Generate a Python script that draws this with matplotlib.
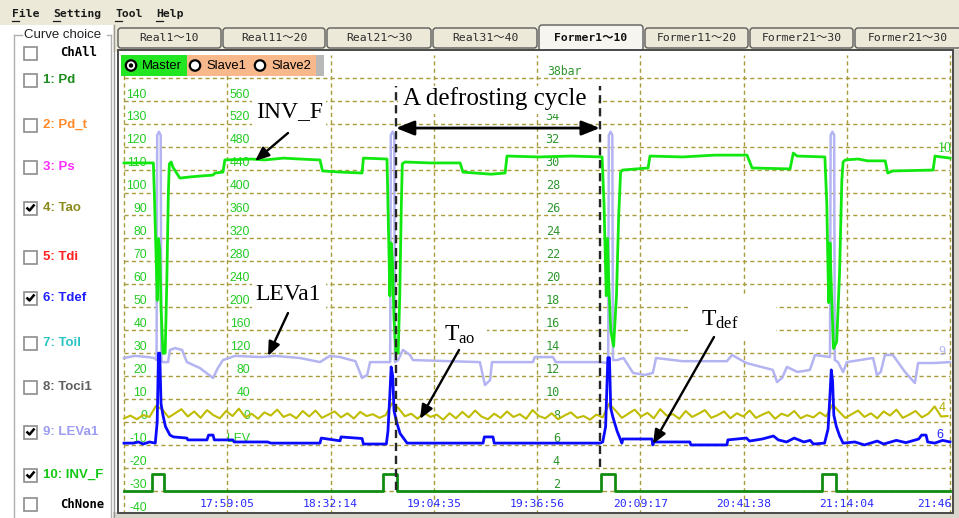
import numpy as np
import matplotlib
matplotlib.use('Agg')
import matplotlib.pyplot as plt
from matplotlib.patches import Rectangle, Circle, FancyBboxPatch

plt.rcParams['mathtext.fontset'] = 'custom'
plt.rcParams['mathtext.rm'] = 'Liberation Serif'
plt.rcParams['mathtext.it'] = 'Liberation Serif:italic'

# ------------------------------------------------------------------ data
grid_step_min = 32.35                      # minutes between vertical grid lines
time_labels = ['17:59:05', '18:32:14', '19:04:35', '19:36:56',
               '20:09:17', '20:41:38', '21:14:04', '21:46']

temp_levels = [140, 130, 120, 110, 100, 90, 80, 70, 60, 50, 40, 30, 20, 10, 0, -10, -20, -30, -40]
temp_labels = ['140', '130', '120', '110', '100', '90', '80', '70', '60', '50', '40', '30',
               '20', '10', '0', '-10', '-20', '-30', '-40']
lev_levels = [140, 130, 120, 110, 100, 90, 80, 70, 60, 50, 40, 30, 20, 10, 0, -10]
lev_labels = ['560', '520', '480', '440', '400', '360', '320', '280', '240', '200', '160',
              '120', '80', '40', '0', 'LEV']
bar_levels = [150, 130, 120, 110, 100, 90, 80, 70, 60, 50, 40, 30, 20, 10, 0, -10, -20, -30]
bar_labels = ['38bar', '34', '32', '30', '28', '26', '24', '22', '20', '18', '16',
              '14', '12', '10', '8', '6', '4', '2']

# INV_F (minutes, value on left scale)
inv_t = [0, 9.2, 9.5, 9.8, 10.1, 10.4, 10.8, 11.2, 11.6, 12.2,
         12.9, 13.4, 13.9, 14.2, 14.8, 15.3, 17.5, 20.7, 24.0, 27.9,
         28.5, 31.0, 31.6, 40.0, 44.0, 50.0, 55.0, 61.4, 62.2, 68.0,
         74.6, 75.0, 82.4, 82.7, 83.0, 83.3, 83.7, 84.1, 84.6, 85.2,
         85.9, 86.4, 86.9, 87.2, 88.0, 96.0, 105.3, 106.2, 110.0, 115.0,
         119.4, 120.0, 130.0, 140.0, 149.8, 150.4, 150.8, 151.1, 151.5, 151.9,
         152.5, 153.4, 154.3, 155.0, 155.6, 156.2, 164.2, 164.8, 175.0, 185.0,
         195.2, 196.8, 208.7, 209.7, 210.9, 219.6, 220.2, 220.5, 220.8, 221.2,
         221.7, 222.3, 223.3, 224.2, 224.9, 225.3, 226.0, 230.0, 233.0, 238.5,
         239.3, 240.9, 253.5, 254.1, 256.0, 258.8]
inv_v = [112.9, 112.9, 100, 85, 70, 53, 80, 75, 50, 30,
         30, 60, 100, 112.5, 113.3, 111.1, 106.3, 106.8, 107.2, 107.6,
         108.5, 108.9, 114.2, 114.6, 114.2, 115.0, 114.6, 114.2, 109.4, 108.9,
         108.5, 115.0, 114.6, 95, 75, 55, 78, 70, 45, 30,
         30, 55, 95, 112.5, 113.3, 112.9, 112.9, 108.9, 108.5, 108.0,
         108.5, 115.9, 115.5, 115.9, 115.5, 95, 72, 55, 80, 60,
         40, 33, 55, 90, 108.9, 109.8, 110.7, 115.9, 115.5, 116.3,
         116.3, 110.7, 110.3, 117.2, 115.9, 115.5, 95, 72, 52, 78,
         55, 32, 35, 65, 105, 113.3, 114.2, 114.6, 113.8, 113.8,
         108.5, 109.4, 109.8, 115.9, 115.5, 115.0]

# LEVa1
lev_t = [0, 3.4, 7.5, 9.4, 10.2, 10.4, 10.95, 11.5, 11.7, 12.0,
         13.8, 14.4, 16.0, 18.2, 19.7, 23.8, 27.9, 29.4, 31.0, 34.8,
         43.0, 47.3, 55.1, 61.4, 64.5, 67.7, 72.5, 74.6, 76.2, 77.1,
         83.4, 83.6, 84.15, 84.7, 84.9, 85.9, 87.4, 89.6, 90.5, 102.0,
         111.5, 113.1, 114.7, 115.3, 128.1, 128.7, 134.4, 135.3, 149.1, 151.7,
         151.9, 152.45, 153.0, 153.2, 154.5, 156.5, 159.5, 163.2, 165.7, 166.7,
         175.0, 188.9, 190.5, 195.0, 203.3, 204.6, 206.2, 207.7, 211.0, 214.9,
         216.5, 221.2, 221.4, 221.95, 222.5, 222.7, 223.7, 225.3, 226.5, 234.7,
         235.9, 237.1, 238.4, 240.9, 244.7, 247.8, 248.8, 253.5, 258.8]
lev_v = [27.9, 28.8, 28.3, 27.9, 27.0, 125.0, 126.5, 125.0, 27.0, 26.1,
         26.1, 31.4, 32.2, 31.4, 26.1, 23.5, 19.2, 23.5, 27.0, 28.8,
         28.3, 28.8, 27.9, 26.1, 28.8, 28.3, 26.5, 19.2, 20.5, 26.1,
         26.1, 125.0, 126.5, 125.0, 26.1, 27.0, 31.4, 29.2, 27.0, 26.5,
         26.1, 16.1, 18.3, 26.1, 26.1, 28.3, 28.3, 26.1, 26.1, 25.7,
         125.0, 126.5, 125.0, 27.0, 27.0, 27.9, 21.4, 20.5, 21.4, 27.9,
         26.5, 26.5, 29.2, 25.7, 22.7, 17.4, 19.2, 24.0, 21.8, 22.7,
         29.2, 28.3, 125.0, 126.5, 125.0, 27.0, 26.1, 21.8, 26.1, 27.9,
         20.5, 21.8, 29.2, 29.2, 21.8, 17.0, 25.7, 25.7, 26.1]

# Tao, one reading every 2 minutes
tao_v = [1.5, 2.8, 1.2, 3.0, 2.2, 7.0, 5.5, 2.0, 3.8, 5.6,
         2.4, 4.6, 1.8, 5.2, 3.0, 1.6, 4.8, 2.6, 5.8, 2.0,
         3.6, 1.4, 4.2, 2.8, 5.4, 2.2, 3.4, 1.6, 4.8, 2.4,
         5.0, 1.8, 3.2, 4.6, 2.0, 3.8, 1.5, 4.4, 2.6, 3.4,
         1.8, 3.0, 8.2, 6.0, 2.5, 3.6, 1.4, 4.0, 2.2, 3.2,
         1.0, 3.8, 1.6, 4.4, 2.0, 5.0, 2.4, 1.2, 3.6, 1.8,
         4.6, 2.2, 3.4, 1.4, 5.2, 2.6, 1.6, 3.8, 1.2, 2.8,
         4.2, 1.8, 2.6, 1.0, 3.2, 2.0, 8.0, 5.0, 1.8, 3.6,
         5.4, 2.4, 4.0, 1.6, 5.6, 2.8, 3.4, 1.4, 4.8, 2.2,
         3.6, 5.2, 1.8, 3.0, 4.6, 1.6, 3.8, 2.4, 5.0, 1.8,
         3.2, 4.4, 1.4, 3.6, 2.6, 4.8, 1.6, 3.0, 2.0, 4.2,
         2.4, 7.6, 4.6, 1.8, 3.4, 5.0, 2.2, 3.8, 1.6, 4.6,
         2.8, 5.4, 1.8, 3.2, 4.8, 2.0, 3.6, 6.8, 2.4, 2.6]
tao_step_min = 2.0

# Tdef
tdef_t = [0, 3.0, 4.5, 6.0, 8.0, 9.8, 10.4, 10.8, 11.2, 11.6,
          12.2, 13.0, 14.4, 15.5, 19.7, 20.0, 26.0, 26.5, 27.9, 28.3,
          34.1, 34.5, 45.0, 46.0, 61.4, 61.8, 67.7, 68.0, 74.6, 75.0,
          82.2, 82.7, 83.3, 83.7, 84.2, 84.6, 85.4, 86.5, 88.7, 112.5,
          112.9, 115.6, 116.0, 149.1, 150.0, 150.9, 151.6, 152.1, 152.5, 153.2,
          154.5, 156.0, 156.3, 165.4, 165.7, 166.0, 177.3, 177.6, 188.9, 189.2,
          195.0, 196.0, 200.0, 203.5, 205.0, 207.6, 210.0, 213.0, 215.0, 216.0,
          219.5, 220.6, 221.2, 221.6, 222.0, 222.4, 223.2, 224.2, 225.3, 229.0,
          232.0, 236.0, 238.0, 242.0, 245.0, 249.0, 249.9, 251.3, 251.8, 254.0,
          256.5, 258.8]
tdef_v = [-9.2, -9.2, -8.7, -9.6, -8.7, -9.2, 0, 30, 30, 8,
          3, -2, -5.7, -6.5, -7.0, -7.8, -7.8, -5.7, -5.7, -7.8,
          -7.8, -8.7, -8.7, -9.2, -9.2, -7.0, -8.2, -6.5, -7.2, -9.6,
          -9.6, -4, 12, 24, 20, 5, 0, -5, -9.2, -9.2,
          -6.5, -6.5, -9.2, -9.2, -8.7, -2, 28, 28, 6, 2,
          -4, -9.2, -7.4, -7.4, -10.0, -8.7, -8.7, -10.0, -10.0, -7.8,
          -7.0, -8.3, -7.4, -6.1, -7.8, -8.7, -7.0, -8.7, -8.0, -9.6,
          -9.2, -3, 12, 22.7, 18, 3, -2, -6, -9.2, -8.7,
          -10.0, -8.3, -9.6, -8.0, -9.0, -7.4, -5.7, -5.7, -8.7, -9.2,
          -8.0, -8.7]

# defrost signal (step)
defrost_start = [8.8, 81.1, 149.4, 218.7]
defrost_end = [12.5, 85.5, 153.8, 223.1]
defrost_off, defrost_on = -30.0, -22.8
cycle_bounds = [85.2, 149.1]

channels = ['ChAll', '1: Pd', '2: Pd_t', '3: Ps', '4: Tao', '5: Tdi', '6: Tdef',
            '7: Toil', '8: Toci1', '9: LEVa1', '10: INV_F', 'ChNone']
channel_colors = ['black', '#1e8c1e', '#ff8a2a', '#ff2cff', '#8c8c1e', '#ff2020', '#2020ff',
                  '#2cc4c4', '#606060', '#9c9cf0', '#16c816', 'black']
channel_checked = [False, False, False, False, True, False, True, False, False, True, True, False]

tab_labels = ['Real1～10', 'Real11～20', 'Real21～30', 'Real31～40',
              'Former1～10', 'Former11～20', 'Former21～30', 'Former21～30']
menu_labels = ['File', 'Setting', 'Tool', 'Help']

# ------------------------------------------------------------------ figure
W, H = 959, 518
fig = plt.figure(figsize=(W / 100, H / 100), dpi=100, facecolor='white')
bg = fig.add_axes([0, 0, 1, 1], zorder=0)
bg.set_xlim(0, W); bg.set_ylim(H, 0); bg.axis('off')
P = bg.transData  # pixel-coordinate transform for layout items

px0, px1, py0, py1 = 119, 952, 51, 513
X0PIX, PXM = 124.0, 103.25 / grid_step_min
Y0PIX, PYV = 422.0, 2.2947
ax = fig.add_axes([px0 / W, (H - py1) / H, (px1 - px0) / W, (py1 - py0) / H], zorder=1)
ax.set_xlim((px0 - X0PIX) / PXM, (px1 - X0PIX) / PXM)
ax.set_ylim((Y0PIX - py1) / PYV, (Y0PIX - py0) / PYV)
ax.set_xticks([]); ax.set_yticks([])
for s in ax.spines.values():
    s.set_visible(False)
ax.set_facecolor('white')

t_end = 8 * grid_step_min
grid_c = '#a89c3c'
ax.hlines(np.arange(-30, 151, 10), 0, t_end, colors=grid_c, lw=1.0,
          linestyles=(0, (3, 2.3)), zorder=1)
ax.vlines([k * grid_step_min for k in range(9)], -40, 160, colors=grid_c, lw=1.0,
          linestyles=(0, (3, 2.3)), zorder=1)

# axis labels
lab_font = dict(family='Liberation Sans', fontsize=8.8, color='#22cc22', zorder=1.2)
for v, s in zip(temp_levels, temp_labels):
    ax.text(7.2, v + 1.4, s, ha='right', va='baseline', **lab_font)
for v, s in zip(lev_levels, lev_labels):
    ax.text(39.5, v + 1.4, s, ha='right', va='baseline', **lab_font)
for v, s in zip(bar_levels, bar_labels):
    if s.endswith('bar'):
        ax.text(132.6, v + 1.4, s, ha='left', va='baseline', family='DejaVu Sans Mono',
                fontsize=8.3, color='#2e962e', zorder=1.2)
    else:
        ax.text(136.6, v + 1.4, s, ha='right', va='baseline', family='DejaVu Sans Mono',
                fontsize=8.6, color='#2e962e', zorder=1.2)

# annotation white boxes (cover the grid)
for (x0, y0, x1, y1) in [(398, 86, 598, 114), (252, 88, 326, 136), (252, 272, 326, 318),
                         (437, 318, 487, 352), (688, 296, 776, 338)]:
    ax.add_patch(Rectangle((x0, y0), x1 - x0, y1 - y0, transform=P, fc='white',
                           ec='none', zorder=1.5))

# series
ax.plot(lev_t, lev_v, color='#b4b4f2', lw=1.8, zorder=2.0, solid_joinstyle='round')
tao_t = np.arange(len(tao_v)) * tao_step_min
ax.plot(tao_t, tao_v, color='#c0bc00', lw=1.5, zorder=2.1)
ax.plot(inv_t, inv_v, color='#10e810', lw=2.0, zorder=2.2)
ax.plot(tdef_t, tdef_v, color='#0a0aff', lw=2.0, zorder=2.3)
st_t, st_v = [0.0], [defrost_off]
for a, b in zip(defrost_start, defrost_end):
    st_t += [a, a, b, b]
    st_v += [defrost_off, defrost_on, defrost_on, defrost_off]
st_t.append(t_end); st_v.append(defrost_off)
ax.plot(st_t, st_v, color='#118c11', lw=2.0, zorder=2.4)

# right-end channel numbers
ax.text(257.2, 119.4, '10', family='Liberation Serif', fontsize=10, color='#22cc22',
        ha='center', va='center', zorder=2.5)
ax.text(256.3, 30.5, '9', family='Liberation Sans', fontsize=9, color='#b4b4f2',
        ha='center', va='center', zorder=2.5)
ax.text(256.3, 6.1, '4', family='Liberation Sans', fontsize=9, color='#b0ac00',
        ha='center', va='center', zorder=2.5)
ax.text(255.7, -5.7, '6', family='Liberation Sans', fontsize=9, color='#2020ff',
        ha='center', va='center', zorder=2.5)

# time labels
for k, s in enumerate(time_labels, start=1):
    if k < len(time_labels):
        ax.text(k * grid_step_min, -35.7, s, ha='center', va='center', family='DejaVu Sans Mono',
                fontsize=8.2, color='#2828ff', zorder=2.6)
    else:
        ax.text(917, 504, s, transform=P, ha='left', va='center', family='DejaVu Sans Mono',
                fontsize=8.2, color='#2828ff', zorder=2.6)

# defrost cycle markers
ax.vlines(cycle_bounds[0], -29.6, 146.4, colors='#262626', lw=1.7,
          linestyles=(0, (3.5, 2.0)), zorder=3)
ax.vlines(cycle_bounds[1], -19.6, 146.4, colors='#262626', lw=1.7,
          linestyles=(0, (3.5, 2.0)), zorder=3)
ax.annotate('', xy=(cycle_bounds[1], 128.1), xytext=(cycle_bounds[0], 128.1),
            arrowprops=dict(arrowstyle='<|-|>,head_length=0.55,head_width=0.22',
                            mutation_scale=20, lw=2.0, color='black',
                            shrinkA=0, shrinkB=0), zorder=3.2)

serif = dict(family='Liberation Serif', color='black', zorder=3.1)
ax.text(495, 99, 'A defrosting cycle', transform=P, ha='center', va='center', fontsize=18, **serif)
ax.text(290, 112, 'INV_F', transform=P, ha='center', va='center', fontsize=17, **serif)
ax.text(288, 295, 'LEVa1', transform=P, ha='center', va='center', fontsize=17, **serif)
ax.text(460, 335, r'T$_{\mathrm{ao}}$', transform=P, ha='center', va='center', fontsize=17, **serif)
ax.text(720, 320, r'T$_{\mathrm{def}}$', transform=P, ha='center', va='center', fontsize=17, **serif)

arrow_kw = dict(arrowstyle='-|>,head_length=0.6,head_width=0.25', mutation_scale=14,
                lw=1.7, color='black', shrinkA=0, shrinkB=0)
for (tx, ty), (hx, hy) in [((288, 133), (255, 161)), ((288, 313), (268, 356)),
                           ((459, 350), (420, 419)), ((714, 337), (653, 444))]:
    ax.annotate('', xy=(hx, hy), xytext=(tx, ty), xycoords=P, textcoords=P,
                arrowprops=arrow_kw, zorder=3.2)

# ------------------------------------------------------------------ UI chrome
beige = '#ece9d8'
bg.add_patch(Rectangle((0, 0), W, 25, fc=beige, ec='none'))
bg.add_patch(Rectangle((113, 25), W - 113, 27, fc=beige, ec='none'))
bg.add_patch(Rectangle((950, 50), 9, H - 50, fc='#d8d5cc', ec='none'))
bg.add_patch(Rectangle((113, 512), W - 113, 6, fc='#d8d5cc', ec='none'))

menu_x = [12, 53, 115, 156]
for x, s in zip(menu_x, menu_labels):
    bg.text(x, 14, s, ha='left', va='center', family='DejaVu Sans Mono', fontsize=8.2,
            fontweight='bold', color='#1a1a1a')
    bg.plot([x, x + 6.5], [20.5, 20.5], color='#1a1a1a', lw=0.9)

tab_x = [117, 222, 326, 432, 538, 644, 749, 854, 962]
for i, s in enumerate(tab_labels):
    x0, x1 = tab_x[i] + 1, tab_x[i + 1] - 1
    active = (i == 4)
    top, bot = (25, 51) if active else (28, 48)
    bg.add_patch(FancyBboxPatch((x0, top), x1 - x0, bot - top,
                                boxstyle='round,pad=0,rounding_size=3',
                                fc='#f6f5f0' if active else beige, ec='#5c5c5c', lw=1.0))
    bg.text((x0 + x1) / 2, 38, s, ha='center', va='center',
            family=['DejaVu Sans Mono', 'Noto Sans CJK SC'], fontsize=8.2,
            fontweight='bold' if active else 'normal', color='#111111' if active else '#2a2a2a')

# left panel group box
gb = '#b0b0b0'
bg.plot([14, 14], [35, H], color=gb, lw=1.0)
bg.plot([14, 22], [35, 35], color=gb, lw=1.0)
bg.plot([107, 111], [35, 35], color=gb, lw=1.0)
bg.plot([111, 111], [35, H], color=gb, lw=1.0)
bg.text(24, 35, 'Curve choice', ha='left', va='center', family='Liberation Sans',
        fontsize=9.5, color='#222222')
bg.plot([114, 114], [25, H], color='#9a9a9a', lw=1.0)

chk_y = [53, 80, 125, 167, 208, 257, 298, 343, 387, 432, 475, 504]
for s, c, on, y in zip(channels, channel_colors, channel_checked, chk_y):
    bg.add_patch(Rectangle((24, y - 6.5), 13, 13, fc='white', ec='#8c8c8c', lw=1.2))
    if on:
        bg.plot([26.5, 29.5, 34.5], [y - 0.5, y + 2.5, y - 3.5], color='black', lw=1.8,
                solid_capstyle='butt')
    if s.startswith('Ch'):
        bg.text(60, y, s, ha='left', va='center', family='DejaVu Sans Mono', fontsize=8.8,
                fontweight='bold', color='black')
    else:
        bg.text(43, y, s, ha='left', va='center', family='Liberation Sans', fontsize=9.5,
                fontweight='bold', color=c)

# overlay: plot frame and Master/Slave bar
ov = fig.add_axes([0, 0, 1, 1], zorder=3)
ov.set_xlim(0, W); ov.set_ylim(H, 0); ov.axis('off')
ov.add_patch(Rectangle((118, 50), 835, 463, fc='none', ec='#4a4a4a', lw=1.4))
ov.add_patch(Rectangle((121, 55), 66, 21, fc='#22e622', ec='none'))
ov.add_patch(Rectangle((187, 55), 129, 21, fc='#f7b98c', ec='none'))
ov.add_patch(Rectangle((316, 55), 8, 21, fc='#b8b8b8', ec='none'))
for cx, lab, sel in [(131, 'Master', True), (195, 'Slave1', False), (260, 'Slave2', False)]:
    ov.add_patch(Circle((cx, 65.5), 5.2, fc='white', ec='black', lw=1.6))
    if sel:
        ov.add_patch(Circle((cx, 65.5), 2.2, fc='black', ec='none'))
    ov.text(cx + 11, 66, lab, ha='left', va='center', family='Liberation Sans',
            fontsize=9.4, color='black')

fig.savefig('out.png', dpi=100, facecolor='white')
